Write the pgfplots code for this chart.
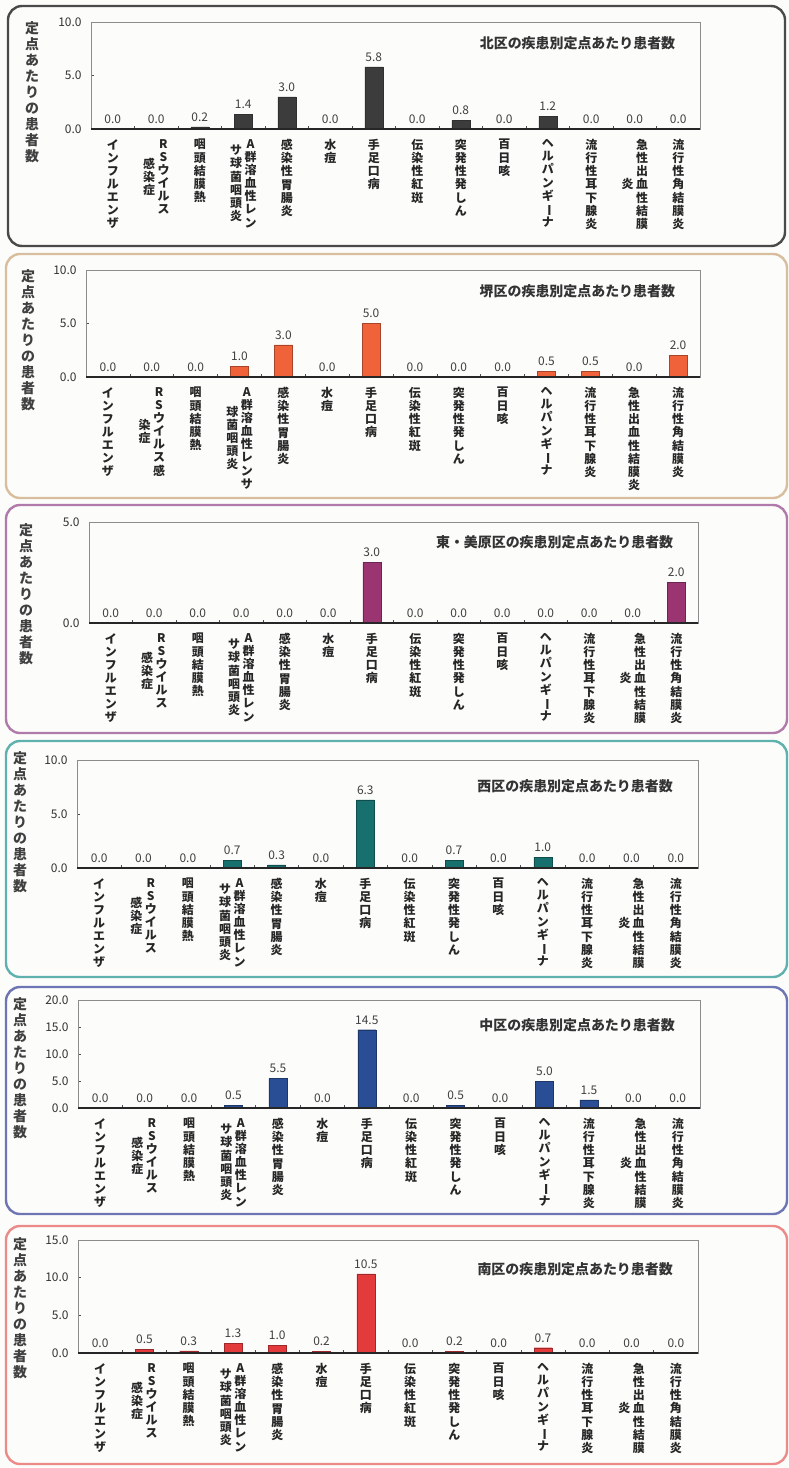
\documentclass[border=0pt]{standalone}
\usepackage{fontspec}
\setmainfont{Noto Sans CJK JP}
\usepackage{graphicx}
\usepackage{pgfplots}
\usepackage{pgfplotstable}
\pgfplotsset{compat=1.18}

\definecolor{bgcol}{HTML}{FCFCFA}
\definecolor{frA}{HTML}{4A4A4A}\definecolor{barA}{HTML}{3C3C3C}
\definecolor{frB}{HTML}{D8BE9F}\definecolor{barB}{HTML}{F0623A}
\definecolor{frC}{HTML}{B07AAA}\definecolor{barC}{HTML}{9A3572}
\definecolor{frD}{HTML}{5FB1AE}\definecolor{barD}{HTML}{17706E}
\definecolor{frE}{HTML}{6E75B5}\definecolor{barE}{HTML}{2A4E96}
\definecolor{frF}{HTML}{EC8A8A}\definecolor{barF}{HTML}{E33A3C}

% vertical (stacked) Japanese text, one character per line
\ExplSyntaxOn
\NewDocumentCommand \vcol { O{1.1em} m }
  {
    \ensuremath
      {
        \vcenter
          {
            \dim_set:Nn \baselineskip {#1}
            \dim_set:Nn \lineskiplimit { -100pt }
            \tl_map_inline:nn {#2}
              { \hbox_to_wd:nn { 1em } { \hss ##1 \hss } }
          }
      }
  }
\ExplSyntaxOff
\newcommand\vgap{\kern2.5bp}
\newcommand\cho{\rotatebox[origin=c]{-90}{ー}}% vertical long-vowel mark

% rows: index, value
\pgfplotstableread{
i v
0 0.0
1 0.0
2 0.2
3 1.4
4 3.0
5 0.0
6 5.8
7 0.0
8 0.8
9 0.0
10 1.2
11 0.0
12 0.0
13 0.0
}\kita
\pgfplotstableread{
i v
0 0.0
1 0.0
2 0.0
3 1.0
4 3.0
5 0.0
6 5.0
7 0.0
8 0.0
9 0.0
10 0.5
11 0.5
12 0.0
13 2.0
}\sakai
\pgfplotstableread{
i v
0 0.0
1 0.0
2 0.0
3 0.0
4 0.0
5 0.0
6 3.0
7 0.0
8 0.0
9 0.0
10 0.0
11 0.0
12 0.0
13 2.0
}\higashi
\pgfplotstableread{
i v
0 0.0
1 0.0
2 0.0
3 0.7
4 0.3
5 0.0
6 6.3
7 0.0
8 0.7
9 0.0
10 1.0
11 0.0
12 0.0
13 0.0
}\nishi
\pgfplotstableread{
i v
0 0.0
1 0.0
2 0.0
3 0.5
4 5.5
5 0.0
6 14.5
7 0.0
8 0.5
9 0.0
10 5.0
11 1.5
12 0.0
13 0.0
}\naka
\pgfplotstableread{
i v
0 0.0
1 0.5
2 0.3
3 1.3
4 1.0
5 0.2
6 10.5
7 0.0
8 0.2
9 0.0
10 0.7
11 0.0
12 0.0
13 0.0
}\minami

\pgfplotsset{
  panel/.style={
    scale only axis, anchor=south west,
    xmin=-0.5, xmax=13.5, ymin=0,
    ybar, bar width=18bp, clip=false,
    xtick={0,...,13}, minor xtick={0.5,1.5,...,12.5},
    tick pos=left, tick align=inside,
    major x tick style={draw=none},
    major tick length=3bp, minor tick length=3bp,
    tick style={black!70, line width=0.6bp},
    axis line style={draw=black!45, line width=0.8bp},
    /pgf/number format/assume math mode=true,
    yticklabel={\pgfmathprintnumber[fixed,fixed zerofill,precision=1]{\tick}},
    yticklabel style={font=\fontsize{12}{12}\selectfont, text=black!80, xshift=-6bp},
    xticklabel style={anchor=north, inner sep=0pt, yshift=-10bp,
      font=\fontsize{12}{13}\selectfont\bfseries, text=black!85},
    nodes near coords={\pgfmathprintnumber[fixed,fixed zerofill,precision=1]{\pgfplotspointmeta}},
    every node near coord/.append style={font=\fontsize{12}{12}\selectfont, text=black!75, yshift=2bp},
  },
  labsA/.style={xticklabels={
    {\vcol{インフルエンザ}},
    {\vcol{感染症}\vgap\vcol{RSウイルス}},
    {\vcol{咽頭結膜熱}},
    {\vcol{サ球菌咽頭炎}\vgap\vcol{A群溶血性レン}},
    {\vcol{感染性胃腸炎}},
    {\vcol{水痘}},
    {\vcol{手足口病}},
    {\vcol{伝染性紅斑}},
    {\vcol{突発性発しん}},
    {\vcol{百日咳}},
    {\vcol{ヘルパンギ\cho ナ}},
    {\vcol{流行性耳下腺炎}},
    {\vcol{炎}\vgap\vcol{急性出血性結膜}},
    {\vcol{流行性角結膜炎}}}},
  labsB/.style={xticklabels={
    {\vcol{インフルエンザ}},
    {\vcol{染症}\vgap\vcol{RSウイルス感}},
    {\vcol{咽頭結膜熱}},
    {\vcol{球菌咽頭炎}\vgap\vcol{A群溶血性レンサ}},
    {\vcol{感染性胃腸炎}},
    {\vcol{水痘}},
    {\vcol{手足口病}},
    {\vcol{伝染性紅斑}},
    {\vcol{突発性発しん}},
    {\vcol{百日咳}},
    {\vcol{ヘルパンギ\cho ナ}},
    {\vcol{流行性耳下腺炎}},
    {\vcol{急性出血性結膜炎}},
    {\vcol{流行性角結膜炎}}}},
}
\tikzset{ylab/.style={anchor=north, font=\fontsize{14}{15}\selectfont\bfseries, text=black!75},
  frame/.style={line width=2.4bp, rounded corners=14bp},
  ttl/.style={anchor=east, font=\fontsize{14}{14}\selectfont\bfseries, text=black!80}}

\begin{document}
\begin{tikzpicture}
\fill[bgcol] (0,0) rectangle (789bp,-1468bp);
\path[use as bounding box] (0,0) rectangle (789bp,-1468bp);

\draw[frame, frA] (8bp,-6bp) rectangle (785bp,-246bp);
\draw[frame, frB] (6bp,-254bp) rectangle (787bp,-498bp);
\draw[frame, frC] (6bp,-505bp) rectangle (787bp,-733bp);
\draw[frame, frD] (6bp,-741bp) rectangle (787bp,-977bp);
\draw[frame, frE] (6bp,-987bp) rectangle (787bp,-1214bp);
\draw[frame, frF] (6bp,-1226bp) rectangle (787bp,-1464bp);

\node[ylab] at (32bp,-18bp) {\vcol[1.15em]{定点あたりの患者数}};
\node[ylab] at (28bp,-266bp) {\vcol[1.15em]{定点あたりの患者数}};
\node[ylab] at (26bp,-520bp) {\vcol[1.15em]{定点あたりの患者数}};
\node[ylab] at (20bp,-748bp) {\vcol[1.15em]{定点あたりの患者数}};
\node[ylab] at (20bp,-994bp) {\vcol[1.15em]{定点あたりの患者数}};
\node[ylab] at (20bp,-1234bp) {\vcol[1.15em]{定点あたりの患者数}};

% 北区
\begin{axis}[panel, labsA, at={(91bp,-129bp)}, width=609bp, height=107bp,
    ymax=10, ytick={0,5,10}]
\addplot[fill=barA, draw=barA!80!black] table[x=i, y=v] {\kita};
\draw[black!85, line width=1.2bp] (rel axis cs:0,0) -- (rel axis cs:1,0);
\node[ttl] at (rel axis cs:0.965,0.80) {北区の疾患別定点あたり患者数};
\end{axis}

% 堺区
\begin{axis}[panel, labsB, at={(86bp,-377bp)}, width=614bp, height=107bp,
    ymax=10, ytick={0,5,10}]
\addplot[fill=barB, draw=barB!70!black] table[x=i, y=v] {\sakai};
\draw[black!85, line width=1.2bp] (rel axis cs:0,0) -- (rel axis cs:1,0);
\node[ttl] at (rel axis cs:0.965,0.80) {堺区の疾患別定点あたり患者数};
\end{axis}

% 東・美原区
\begin{axis}[panel, labsA, at={(89bp,-623bp)}, width=609bp, height=101bp,
    ymax=5, ytick={0,5}]
\addplot[fill=barC, draw=barC!70!black] table[x=i, y=v] {\higashi};
\draw[black!85, line width=1.2bp] (rel axis cs:0,0) -- (rel axis cs:1,0);
\node[ttl] at (rel axis cs:0.965,0.80) {東・美原区の疾患別定点あたり患者数};
\end{axis}

% 西区
\begin{axis}[panel, labsA, at={(77bp,-868bp)}, width=621bp, height=108bp,
    ymax=10, ytick={0,5,10}]
\addplot[fill=barD, draw=barD!70!black] table[x=i, y=v] {\nishi};
\draw[black!85, line width=1.2bp] (rel axis cs:0,0) -- (rel axis cs:1,0);
\node[ttl] at (rel axis cs:0.965,0.76) {西区の疾患別定点あたり患者数};
\end{axis}

% 中区
\begin{axis}[panel, labsA, at={(78bp,-1108bp)}, width=622bp, height=108bp,
    ymax=20, ytick={0,5,10,15,20}]
\addplot[fill=barE, draw=barE!70!black] table[x=i, y=v] {\naka};
\draw[black!85, line width=1.2bp] (rel axis cs:0,0) -- (rel axis cs:1,0);
\node[ttl] at (rel axis cs:0.965,0.77) {中区の疾患別定点あたり患者数};
\end{axis}

% 南区
\begin{axis}[panel, labsA, at={(78bp,-1353bp)}, width=620bp, height=113bp,
    ymax=15, ytick={0,5,10,15}]
\addplot[fill=barF, draw=barF!70!black] table[x=i, y=v] {\minami};
\draw[black!85, line width=1.2bp] (rel axis cs:0,0) -- (rel axis cs:1,0);
\node[ttl] at (rel axis cs:0.965,0.74) {南区の疾患別定点あたり患者数};
\end{axis}
\end{tikzpicture}
\end{document}
